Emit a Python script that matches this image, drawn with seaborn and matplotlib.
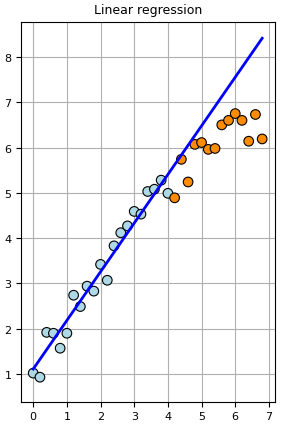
import numpy as np
import pandas as pd
import matplotlib
matplotlib.use("Agg")
import matplotlib.pyplot as plt
import seaborn as sns

# points
x_blue = [0.0, 0.2, 0.4, 0.6, 0.8, 1.0, 1.2, 1.4, 1.6, 1.8, 2.0,
          2.2, 2.4, 2.6, 2.8, 3.0, 3.2, 3.4, 3.6, 3.8, 4.0]
y_blue = [1.02, 0.93, 1.92, 1.90, 1.57, 1.90, 2.74, 2.49, 2.94, 2.83, 3.42,
          3.07, 3.83, 4.12, 4.27, 4.59, 4.53, 5.03, 5.08, 5.28, 4.99]
x_orange = [4.2, 4.4, 4.6, 4.8, 5.0, 5.2, 5.4, 5.6, 5.8, 6.0, 6.2, 6.4, 6.6, 6.8]
y_orange = [4.89, 5.74, 5.24, 6.07, 6.11, 5.96, 5.98, 6.50, 6.60, 6.75,
            6.60, 6.14, 6.73, 6.19]

# regression coefficients
slope = 1.074
intercept = 1.11

df = pd.DataFrame({
    "x": x_blue + x_orange,
    "y": y_blue + y_orange,
    "group": ["train"] * len(x_blue) + ["test"] * len(x_orange),
})

x_line = np.array([min(df["x"]), max(df["x"])])

fig = plt.figure(figsize=(2.85, 4.27), dpi=100)
ax = fig.add_axes([0.074, 0.057, 0.892, 0.890])
ax.grid(True, color="#b0b0b0", linewidth=0.8)
ax.set_axisbelow(True)

sns.scatterplot(data=df, x="x", y="y", hue="group",
                palette={"train": "lightblue", "test": "darkorange"},
                s=48, edgecolor="black", linewidth=0.8, legend=False, ax=ax,
                zorder=3)
ax.plot(x_line, intercept + slope * x_line, color="blue", linewidth=2, zorder=4)

ax.set_xlim(-0.36, 7.19)
ax.set_ylim(0.39, 8.78)
ax.set_xticks(range(0, 8))
ax.set_yticks(range(1, 9))
ax.set_xlabel("")
ax.set_ylabel("")
ax.tick_params(labelsize=8)
ax.set_title("Linear regression", fontsize=9)

fig.savefig("out.png", dpi=100)
